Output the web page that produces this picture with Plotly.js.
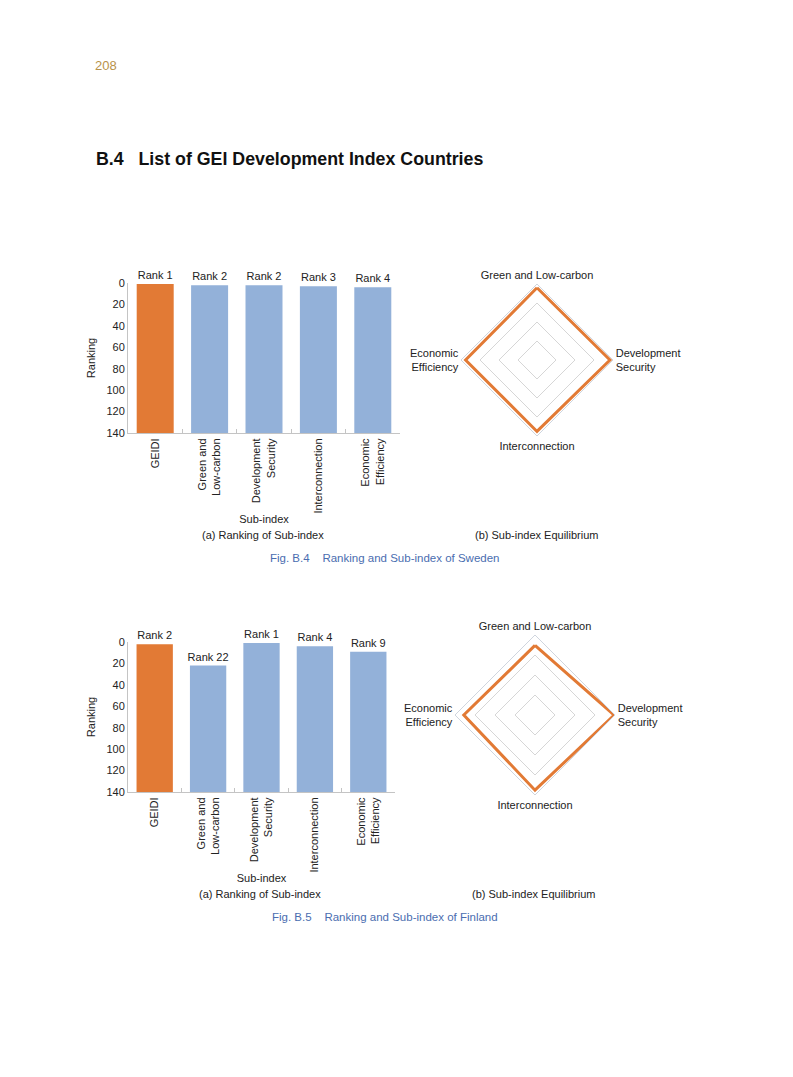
<!DOCTYPE html>
<html>
<head>
<meta charset="utf-8">
<script src="https://cdn.plot.ly/plotly-3.0.1.min.js"></script>
<style>html,body{margin:0;padding:0;background:#fff;}#chart{width:793px;height:1077px;}</style>
</head>
<body>
<div id="chart"></div>
<script>
// ---- data ----
const categories = ['GEIDI', 'Green and<br>Low-carbon', 'Development<br>Security', 'Interconnection', 'Economic<br>Efficiency'];
const swedenRanks = [1, 2, 2, 3, 4];
const finlandRanks = [2, 22, 1, 4, 9];
const radarAxes = ['Green and Low-carbon', 'Development<br>Security', 'Interconnection', 'Economic<br>Efficiency'];
const swedenScores = [95, 96, 94, 94];
const finlandScores = [87, 99, 94, 89];
const rankTicks = [0, 20, 40, 60, 80, 100, 120, 140];
const rankMax = 140;

// ---- styles ----
const ORANGE = '#E27A35';
const BLUE = '#93B1D9';
const AXIS = '#C4C4C4';
const FONT = 'Liberation Sans, Arial, sans-serif';
const barColors = categories.map((c, i) => i === 0 ? ORANGE : BLUE);

function barTrace(ranks, xa, ya) {
  return {
    type: 'bar',
    x: categories,
    base: ranks.map(() => rankMax),
    y: ranks.map(r => r - rankMax),
    text: ranks.map(r => 'Rank ' + r),
    textposition: 'outside',
    constraintext: 'none',
    cliponaxis: false,
    textfont: {family: FONT, size: 11, color: '#222'},
    marker: {color: barColors},
    xaxis: xa, yaxis: ya,
    hoverinfo: 'skip'
  };
}
function radarTrace(scores, sub) {
  return {
    type: 'scatterpolar',
    r: scores.concat([scores[0]]),
    theta: radarAxes.concat([radarAxes[0]]),
    mode: 'lines',
    line: {color: ORANGE, width: 3},
    subplot: sub,
    hoverinfo: 'skip'
  };
}

const data = [
  barTrace(swedenRanks, 'x', 'y'),
  radarTrace(swedenScores, 'polar'),
  barTrace(finlandRanks, 'x2', 'y2'),
  radarTrace(finlandScores, 'polar2')
];

function xAxis(domain, anchor) {
  return {
    domain: domain, anchor: anchor,
    showline: true, linecolor: AXIS, linewidth: 1,
    ticks: 'inside', tickson: 'boundaries', ticklen: 4, tickcolor: AXIS,
    tickangle: -90,
    tickfont: {family: FONT, size: 11, color: '#222'},
    title: {text: 'Sub-index', font: {family: FONT, size: 11, color: '#222'}, standoff: 2},
    fixedrange: true
  };
}
function yAxis(domain, anchor) {
  return {
    domain: domain, anchor: anchor,
    range: [rankMax, 0],
    tickvals: rankTicks,
    showline: true, linecolor: AXIS, linewidth: 1,
    showgrid: false, zeroline: false,
    ticks: '',
    tickfont: {family: FONT, size: 11, color: '#222'},
    title: {text: 'Ranking', font: {family: FONT, size: 11, color: '#222'}, standoff: 8},
    fixedrange: true
  };
}
function polarAxes(xd, yd) {
  return {
    domain: {x: xd, y: yd},
    gridshape: 'linear',
    bgcolor: 'rgba(0,0,0,0)',
    radialaxis: {range: [0, 100], dtick: 25, showticklabels: false, ticks: '', showline: false,
                 gridcolor: '#D6D6D6', gridwidth: 1},
    angularaxis: {rotation: 90, direction: 'clockwise', showgrid: false, showline: true,
                  linecolor: '#CFD5DE', linewidth: 1, ticks: '',
                  tickfont: {family: FONT, size: 11, color: '#222'}}
  };
}

const W = 793, H = 1077;
const px = v => v / W;
const py = v => 1 - v / H;

function ann(text, x, y, opts) {
  return Object.assign({text: text, x: x, y: y, xref: 'paper', yref: 'paper', showarrow: false,
    font: {family: FONT, size: 11, color: '#222'}, xanchor: 'center', yanchor: 'middle'}, opts || {});
}
const CAP = {family: FONT, size: 11.5, color: '#4A6DB0'};

const layout = {
  width: W, height: H,
  margin: {l: 0, r: 0, t: 0, b: 0},
  paper_bgcolor: '#fff', plot_bgcolor: '#fff',
  showlegend: false,
  bargap: 0.32,
  xaxis: xAxis([px(128), px(400)], 'y'),
  yaxis: yAxis([py(433), py(283)], 'x'),
  xaxis2: xAxis([px(128), px(395)], 'y2'),
  yaxis2: yAxis([py(792), py(642)], 'x2'),
  polar: polarAxes([px(461), px(613)], [py(436), py(284)]),
  polar2: polarAxes([px(455), px(615)], [py(795), py(635)]),
  annotations: [
    ann('208', px(93), py(66), {xanchor: 'left', font: {family: FONT, size: 13, color: '#B8924A'}}),
    ann('<b>B.4   List of GEI Development Index Countries</b>', px(94), py(159), {xanchor: 'left', font: {family: FONT, size: 17.8, color: '#111'}}),
    ann('(a) Ranking of Sub-index', px(263), py(535)),
    ann('(b) Sub-index Equilibrium', px(537), py(535)),
    ann('Fig. B.4    Ranking and Sub-index of Sweden', px(385), py(558), {font: CAP}),
    ann('(a) Ranking of Sub-index', px(260), py(894)),
    ann('(b) Sub-index Equilibrium', px(534), py(894)),
    ann('Fig. B.5    Ranking and Sub-index of Finland', px(385), py(917), {font: CAP})
  ]
};

Plotly.newPlot('chart', data, layout, {displayModeBar: false, staticPlot: true});
</script>
</body>
</html>
